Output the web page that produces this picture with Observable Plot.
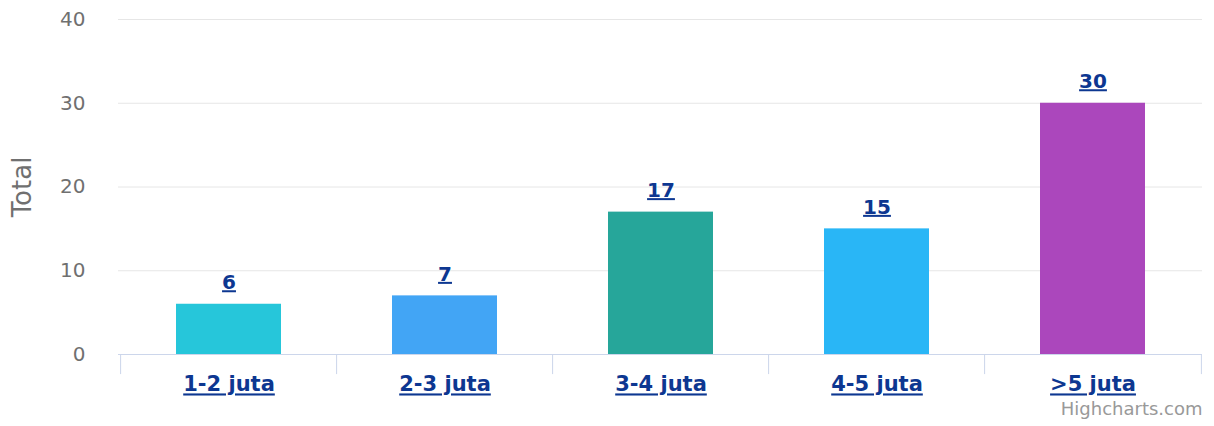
<!DOCTYPE html>
<html>
<head>
<meta charset="utf-8">
<script src="https://cdn.jsdelivr.net/npm/d3@7"></script>
<script src="https://cdn.jsdelivr.net/npm/@observablehq/plot@0.6"></script>
<style>
  html, body { margin: 0; padding: 0; background: #fff; }
  #chart svg { display: block; }
</style>
</head>
<body>
<div id="chart"></div>
<script>
const categories = ["1-2 juta", "2-3 juta", "3-4 juta", "4-5 juta", ">5 juta"];
const values = [6, 7, 17, 15, 30];
const colors = ["#26c6da", "#42a5f5", "#26a69a", "#29b6f6", "#ab47bc"];
const yTicks = [0, 10, 20, 30, 40];
const yTitle = "Total";
const credit = "Highcharts.com";

const data = categories.map((c, i) => ({category: c, value: values[i], color: colors[i]}));

const W = 1214, H = 426;
const mL = 118, mR = 12, mT = 19, mB = 72;
const step = (W - mL - mR) / categories.length;
const font = "DejaVu Sans, Verdana, sans-serif";
const labelBlue = "#0d3791";

const chart = Plot.plot({
  width: W,
  height: H,
  marginLeft: mL,
  marginRight: mR,
  marginTop: mT,
  marginBottom: mB,
  style: {fontFamily: font, background: "#fff", overflow: "visible"},
  x: {domain: categories, paddingInner: 0.515, paddingOuter: 0.2575, axis: null},
  y: {domain: [0, 40], axis: null},
  marks: [
    Plot.ruleY(yTicks.filter(d => d > 0), {stroke: "#e6e6e6", strokeWidth: 1}),
    Plot.barY(data, {x: "category", y: "value", fill: "color"}),
    Plot.ruleY([0], {stroke: "#ccd6eb", strokeWidth: 1}),
    Plot.ruleX(categories, {x: d => d, y1: 0, y2: -2.4, stroke: "#ccd6eb", dx: -step / 2}),
    Plot.ruleX(categories.slice(-1), {x: d => d, y1: 0, y2: -2.4, stroke: "#ccd6eb", dx: step / 2}),
    Plot.axisY({ticks: yTicks, tickSize: 0, tickPadding: 33, fontSize: 20, fill: "#707070", label: null}),
    Plot.axisX({tickSize: 0, tickPadding: 22, fontSize: 21, fontWeight: "bold", fill: labelBlue, label: null, className: "ul"}),
    Plot.text(data, {x: "category", y: "value", text: d => String(d.value), dy: -15, lineAnchor: "bottom",
      fontSize: 20, fontWeight: "bold", fill: labelBlue, className: "ul"}),
    Plot.text([yTitle], {frameAnchor: "left", dx: -96, rotate: -90, textAnchor: "middle", fontSize: 26, fill: "#707070"}),
    Plot.text([credit], {frameAnchor: "bottom-right", dy: 60, textAnchor: "end", fontSize: 18, fill: "#999999"})
  ]
});

d3.select(chart).selectAll(".ul text").attr("text-decoration", "underline");
document.getElementById("chart").appendChild(chart);
</script>
</body>
</html>
